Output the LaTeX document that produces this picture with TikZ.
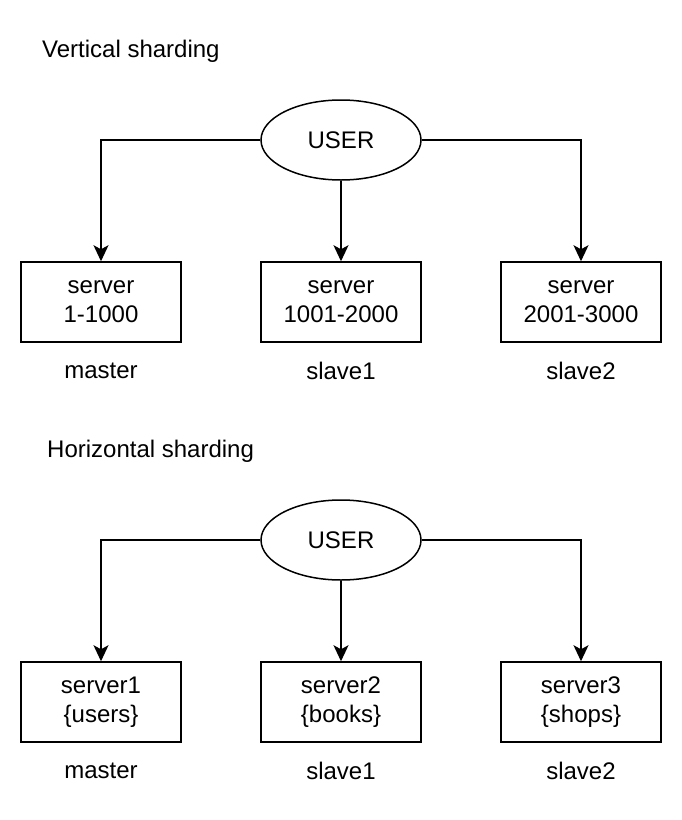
\documentclass[tikz,border=0pt]{standalone}
\usepackage{fontspec}
\setmainfont{Liberation Sans}
\usetikzlibrary{arrows.meta,shapes.geometric}
\begin{document}
\begin{tikzpicture}[x=1pt,y=-1pt,
  every node/.style={font=\fontsize{24}{29}\selectfont, inner sep=0pt},
  srv/.style={draw, line width=1.5pt, minimum width=160pt, minimum height=80pt, align=center},
  usr/.style={draw, ellipse, line width=1.5pt, minimum width=160pt, minimum height=80pt},
  conn/.style={line width=1.5pt, -{Stealth[length=16pt,width=15pt,inset=4pt]}},
  lbl/.style={anchor=center},
  ttl/.style={anchor=west}]
\useasboundingbox (0,0) rectangle (682,820);
% Vertical
\node[ttl] (t1) at (42,51) {Vertical sharding};
\node[usr] (u1) at (341,140) {USER};
\node[srv] (a1) at (101,302) {server\\1-1000};
\node[srv] (b1) at (341,302) {server\\1001-2000};
\node[srv] (c1) at (581,302) {server\\2001-3000};
\node[lbl] (la1) at (101,371) {master};
\node[lbl] (lb1) at (341,371) {slave1};
\node[lbl] (lc1) at (581,371) {slave2};
\draw[conn] (u1.west) -| (a1.north);
\draw[conn] (u1.south) -- (b1.north);
\draw[conn] (u1.east) -| (c1.north);
% Horizontal
\node[ttl] (t2) at (47,451) {Horizontal sharding};
\node[usr] (u2) at (341,540) {USER};
\node[srv] (a2) at (101,702) {server1\\\{users\}};
\node[srv] (b2) at (341,702) {server2\\\{books\}};
\node[srv] (c2) at (581,702) {server3\\\{shops\}};
\node[lbl] (la2) at (101,771) {master};
\node[lbl] (lb2) at (341,771) {slave1};
\node[lbl] (lc2) at (581,771) {slave2};
\draw[conn] (u2.west) -| (a2.north);
\draw[conn] (u2.south) -- (b2.north);
\draw[conn] (u2.east) -| (c2.north);
\end{tikzpicture}
\end{document}
